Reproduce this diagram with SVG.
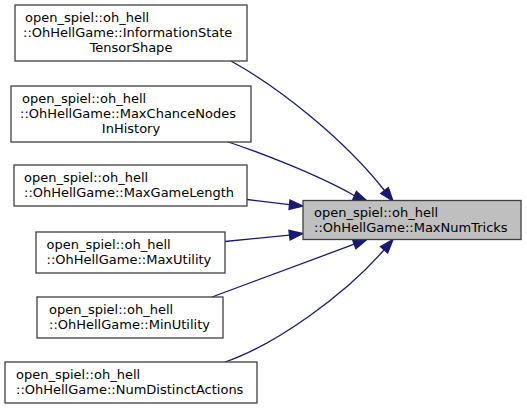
<svg xmlns="http://www.w3.org/2000/svg" width="527" height="409" viewBox="0 0 527 409">
<style>
.n rect{fill:#ffffff;stroke:#404040;stroke-width:1.3}
.n.t rect{fill:#bfbfbf}
.n text{font-family:"DejaVu Sans",sans-serif;font-size:13px;fill:#000000}
.e path{fill:none;stroke:#191970;stroke-width:1.3}
.e polygon{fill:#191970;stroke:#191970;stroke-width:1.3}
</style>
<rect width="527" height="409" fill="#ffffff"/>
<g id="edges" class="e">
<path d="M231,61 C280,88 345,140 384.5,190.5"/>
<polygon points="380.7,193.4 388.3,187.6 393,201"/>
<path d="M222,140 C260,152 320,176 354.5,195.7"/>
<polygon points="352.6,200.1 356.4,191.3 367,201"/>
<path d="M247,199.5 L289.5,204.7"/>
<polygon points="289,209.5 290,199.9 303,206"/>
<path d="M225,241.5 L289.5,235.1"/>
<polygon points="290.1,239.9 288.9,230.3 303,233.5"/>
<path d="M212,297 L354.2,244.2"/>
<polygon points="355.9,248.7 352.5,239.7 367,239.5"/>
<path d="M225,362 C275,345 345,295 384.1,249.8"/>
<polygon points="387.7,252.9 380.5,246.7 393,239.5"/>
</g>
<g id="node-target" class="n t">
<rect x="303" y="200.5" width="218" height="39"/>
<text x="314" y="216.5">open_spiel::oh_hell</text>
<text x="314" y="231.5">::OhHellGame::MaxNumTricks</text>
</g>
<g id="node-infostate" class="n">
<rect x="15" y="5" width="232" height="56"/>
<text x="25" y="21.5">open_spiel::oh_hell</text>
<text x="23" y="36.5">::OhHellGame::InformationState</text>
<text x="131" y="51.5" text-anchor="middle">TensorShape</text>
</g>
<g id="node-maxchance" class="n">
<rect x="11" y="86" width="240" height="56"/>
<text x="22" y="102.5">open_spiel::oh_hell</text>
<text x="20" y="117.5">::OhHellGame::MaxChanceNodes</text>
<text x="131" y="132.5" text-anchor="middle">InHistory</text>
</g>
<g id="node-maxgamelength" class="n">
<rect x="14" y="165" width="233" height="41"/>
<text x="24" y="182">open_spiel::oh_hell</text>
<text x="24" y="197">::OhHellGame::MaxGameLength</text>
</g>
<g id="node-maxutility" class="n">
<rect x="36" y="232" width="189" height="41"/>
<text x="46.5" y="249">open_spiel::oh_hell</text>
<text x="46.5" y="264">::OhHellGame::MaxUtility</text>
</g>
<g id="node-minutility" class="n">
<rect x="37" y="297" width="186" height="41"/>
<text x="49" y="314">open_spiel::oh_hell</text>
<text x="49" y="329">::OhHellGame::MinUtility</text>
</g>
<g id="node-numdistinct" class="n">
<rect x="5" y="362" width="252" height="41"/>
<text x="16" y="379">open_spiel::oh_hell</text>
<text x="16" y="394">::OhHellGame::NumDistinctActions</text>
</g>
</svg>
